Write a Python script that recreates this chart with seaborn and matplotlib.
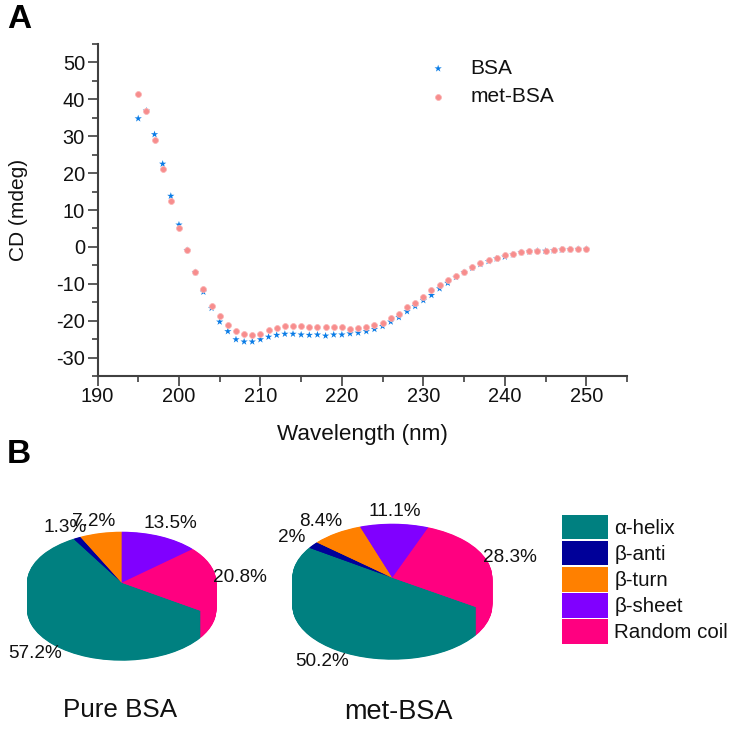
import matplotlib
matplotlib.use('Agg')
import matplotlib.pyplot as plt
import numpy as np
import pandas as pd
import seaborn as sns
from matplotlib.patches import Patch

# ---- Data ----
wavelength = list(range(195, 251))
bsa = [34.8, 36.9, 30.5, 22.5, 13.8, 6.0, -0.9, -6.9, -12.2, -16.6,
       -20.3, -22.9, -25.1, -25.7, -25.7, -25.1, -24.4, -23.9, -23.6, -23.6,
       -23.8, -23.9, -23.8, -24.1, -23.8, -23.8, -23.5, -23.3, -22.9, -22.3,
       -21.5, -20.3, -19.1, -17.5, -16.1, -14.5, -13.1, -11.3, -9.8, -8.2,
       -6.9, -5.7, -4.7, -3.9, -3.2, -2.7, -2.1, -1.5, -1.3, -1.1,
       -1.1, -1.0, -0.8, -0.7, -0.6, -0.6]
met_bsa = [41.5, 36.8, 29.1, 21.0, 12.4, 5.1, -0.9, -6.7, -11.5, -16.1,
           -18.7, -21.2, -22.7, -23.7, -23.8, -23.5, -22.5, -21.9, -21.4, -21.4,
           -21.5, -21.7, -21.6, -21.6, -21.7, -21.7, -22.2, -22.0, -21.8, -21.1,
           -20.5, -19.3, -18.1, -16.4, -15.1, -13.6, -11.8, -10.3, -9.0, -8.0,
           -6.8, -5.5, -4.4, -3.6, -2.9, -2.3, -1.8, -1.4, -1.2, -1.0,
           -1.1, -0.9, -0.7, -0.7, -0.6, -0.6]

structures = ['α-helix', 'β-anti', 'β-turn', 'β-sheet', 'Random coil']
pure_values = [57.2, 1.3, 7.2, 13.5, 20.8]
met_values = [50.2, 2.0, 8.4, 11.1, 28.3]
pie_colors = ['#008080', '#000099', '#ff8000', '#8000ff', '#ff0080']

W, H = 735, 731

sns.set_theme(style='ticks')
plt.rcParams['font.family'] = ['Liberation Sans', 'DejaVu Sans']
plt.rcParams['text.color'] = '#111111'
plt.rcParams['axes.unicode_minus'] = False

fig = plt.figure(figsize=(W / 100, H / 100), dpi=100, facecolor='white')


def px_text(x, y, s, size=13.7, **kw):
    fig.text(x / W, 1 - y / H, s, fontsize=size, ha='center', va='center', **kw)


# ---- Panel A ----
ax = fig.add_axes([97.5 / W, 1 - 376 / H, 529.5 / W, 332 / H])
df = pd.DataFrame({'Wavelength': wavelength, 'BSA': bsa, 'met-BSA': met_bsa})
sns.scatterplot(data=df, x='Wavelength', y='BSA', ax=ax, marker='*', s=30,
                color='#0a7ce6', edgecolor='none', label='BSA', clip_on=False)
sns.scatterplot(data=df, x='Wavelength', y='met-BSA', ax=ax, marker='o', s=18,
                color='#f78d8d', edgecolor='#fbb4b4', linewidth=0.6, label='met-BSA', clip_on=False)
ax.set_xlim(190, 255)
ax.set_ylim(-35, 55)
ax.set_xticks(range(190, 251, 10))
ax.set_xticks(range(195, 256, 10), minor=True)
ax.set_yticks(range(-30, 51, 10))
ax.set_yticks(range(-35, 56, 10), minor=True)
ax.tick_params(axis='both', which='major', length=7, width=1.2, color='#404040',
               labelsize=14.4, labelcolor='#111111', pad=2)
ax.tick_params(axis='both', which='minor', length=4.5, width=1.2, color='#404040')
ax.tick_params(axis='x', which='major', pad=1)
ax.set_xlabel('Wavelength (nm)', fontsize=16.2, color='#111111', labelpad=13)
ax.set_ylabel('CD (mdeg)', fontsize=15, color='#111111', labelpad=20)
sns.despine(ax=ax)
for side in ['left', 'bottom']:
    ax.spines[side].set_color('#404040')
    ax.spines[side].set_linewidth(1.5)
ax.legend(loc='upper left', bbox_to_anchor=(324 / 529.5, 1 - 15 / 332), frameon=False,
          fontsize=15, labelspacing=0.45, handlelength=1.6, handletextpad=0.75,
          borderpad=0, borderaxespad=0)

px_text(19, 20, 'A', size=24, fontweight='bold', color='black')
px_text(19, 455, 'B', size=24, fontweight='bold', color='black')


# ---- Panel B ----
def draw_pie(cx, cy, rx, ry, depth, values, start):
    # one pie stacked many times going down gives the thick side
    pie_ax = fig.add_axes([(cx - rx) / W, 1 - (cy + ry + depth) / H,
                           2 * rx / W, (2 * ry + depth) / H])
    for off in np.arange(depth, -0.5, -0.5):
        pie_ax.pie(values, colors=pie_colors, startangle=start, counterclock=False,
                   center=(0, -off / ry), radius=1,
                   wedgeprops={'edgecolor': 'none', 'linewidth': 0})
    pie_ax.set_aspect('auto')
    pie_ax.set_xlim(-1, 1)
    pie_ax.set_ylim(-1 - depth / ry, 1)
    return pie_ax


draw_pie(121.7, 582.7, 94.7, 51, 27, pure_values, -33.5)
draw_pie(392.3, 577.7, 100, 54, 28, met_values, -33)

px_text(35.5, 654, '57.2%')
px_text(65.5, 527, '1.3%')
px_text(94, 521, '7.2%')
px_text(170, 523, '13.5%')
px_text(239.5, 578, '20.8%')
px_text(322.5, 662, '50.2%')
px_text(291.5, 538, '2%')
px_text(321, 522, '8.4%')
px_text(395, 511, '11.1%')
px_text(510, 558, '28.3%')
px_text(120.5, 710, 'Pure BSA', size=18.7)
px_text(398.5, 712, 'met-BSA', size=19.5)

handles = [Patch(facecolor=c, edgecolor='none') for c in pie_colors]
fig.legend(handles, structures, loc='upper left', bbox_to_anchor=(562 / W, 1 - 515 / H),
           frameon=False, fontsize=14.8, handlelength=2.24, handleheight=1.45,
           labelspacing=0.08, handletextpad=0.3, borderpad=0, borderaxespad=0)

fig.savefig('out.png', dpi=100)
